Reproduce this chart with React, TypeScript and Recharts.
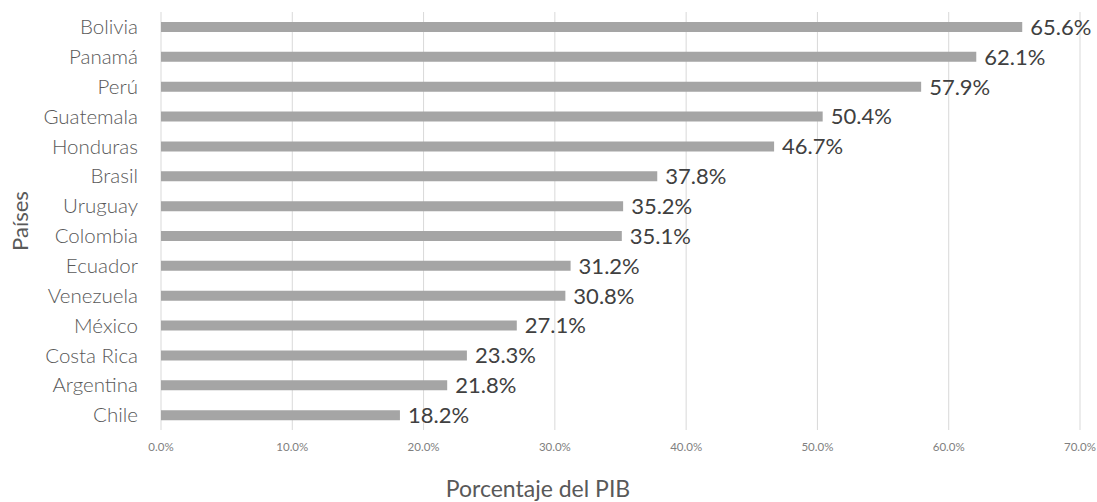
import React from 'react';
import { BarChart, Bar, XAxis, YAxis, CartesianGrid, LabelList } from 'recharts';

const countries = ['Bolivia', 'Panamá', 'Perú', 'Guatemala', 'Honduras', 'Brasil', 'Uruguay', 'Colombia', 'Ecuador', 'Venezuela', 'México', 'Costa Rica', 'Argentina', 'Chile'];
const values = [65.6, 62.1, 57.9, 50.4, 46.7, 37.8, 35.2, 35.1, 31.2, 30.8, 27.1, 23.3, 21.8, 18.2];
const xTicks = [0, 10, 20, 30, 40, 50, 60, 70];
const xTitle = 'Porcentaje del PIB';
const yTitle = 'Países';

const data = countries.map((c, i) => ({ country: c, value: values[i] }));
const FONT = 'Lato, "Open Sans", sans-serif';

export default function App() {
  return (
    <div style={{ position: 'absolute', left: 0, top: 0, width: 1097, height: 502, background: '#fff', fontFamily: FONT }}>
      <BarChart
        width={1097}
        height={502}
        data={data}
        layout="vertical"
        margin={{ top: 12, right: 17, bottom: 0, left: 0 }}
        barCategoryGap={0}
      >
        <CartesianGrid horizontal={false} vertical={true} stroke="#D9D9D9" strokeWidth={1} />
        <XAxis
          type="number"
          domain={[0, 70]}
          ticks={xTicks}
          interval={0}
          height={72}
          axisLine={false}
          tickLine={false}
          tickSize={0}
          tickMargin={13}
          tickFormatter={(v: number) => v.toFixed(1) + '%'}
          tick={{ fill: '#808080', fontSize: 11.5, fontFamily: FONT }}
        />
        <YAxis
          type="category"
          dataKey="country"
          width={161}
          axisLine={false}
          tickLine={false}
          tickSize={0}
          tickMargin={23}
          interval={0}
          tick={{ fill: '#595959', fontSize: 20.5, fontFamily: FONT, fontWeight: 300 }}
        />
        <Bar dataKey="value" fill="#A5A5A5" barSize={10} isAnimationActive={false}>
          <LabelList
            dataKey="value"
            position="right"
            offset={8}
            formatter={(v: number) => v.toFixed(1) + '%'}
            style={{ fill: '#404040', fontSize: 22, fontFamily: FONT }}
          />
        </Bar>
        <text x={538} y={497} textAnchor="middle" fill="#595959" fontSize={23} fontFamily={FONT}>{xTitle}</text>
        <text x={19} y={221} textAnchor="middle" dominantBaseline="central" fill="#595959" fontSize={22} fontFamily={FONT} transform="rotate(-90 19 221)">{yTitle}</text>
      </BarChart>
    </div>
  );
}
